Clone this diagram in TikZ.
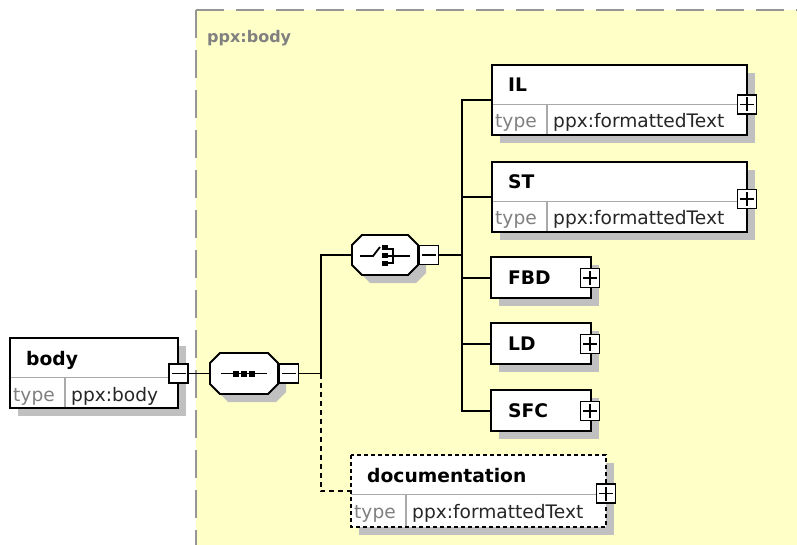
\documentclass[tikz,border=0pt]{standalone}
\usepackage{fontspec}
\setmainfont{DejaVu Sans}

\definecolor{bgyellow}{RGB}{255,255,200}
\definecolor{bordergray}{RGB}{150,150,150}
\definecolor{shadowgray}{RGB}{192,192,192}
\definecolor{typegray}{RGB}{128,128,128}
\definecolor{divgray}{RGB}{170,170,170}

\tikzset{
  conn/.style={draw=black, line width=1.9pt},
  optconn/.style={conn, dash pattern=on 5pt off 4pt},
  framepath/.style={draw=black, line width=1.9pt},
  optframe/.style={dash pattern=on 4pt off 3pt},
  divline/.style={draw=divgray, line width=1.3pt},
  boxfill/.style={fill=white, draw=none, inner sep=0, anchor=north west},
  namelbl/.style={anchor=base west, inner sep=0, font=\bfseries\fontsize{18.7}{22}\selectfont},
  typelbl/.style={anchor=base west, inner sep=0, text=typegray, font=\fontsize{18.6}{22}\selectfont},
  vallbl/.style={anchor=base west, inner sep=0, text=black!85, font=\fontsize{18.6}{22}\selectfont},
  hdrlbl/.style={anchor=base west, inner sep=0, text=typegray, font=\bfseries\fontsize{16}{20}\selectfont},
  pmbox/.style={draw=black, fill=white, line width=1.7pt, minimum size=19pt, inner sep=0},
  pmminus/.style={pmbox, path picture={
      \draw[line width=1.5pt] ([xshift=-7pt]path picture bounding box.center) -- ([xshift=7pt]path picture bounding box.center);}},
  pmplus/.style={pmbox, path picture={
      \draw[line width=1.5pt] ([xshift=-7pt]path picture bounding box.center) -- ([xshift=7pt]path picture bounding box.center)
                               ([yshift=-7pt]path picture bounding box.center) -- ([yshift=7pt]path picture bounding box.center);}},
  icon/.style={draw=black, line width=1.8pt},
  dot/.style={fill=black},
}

% octagon (compositor) outline: style, x1, y1, x2, y2
\newcommand\octshape[5]{%
  \path[#1] (#2+10,#3) -- (#4-10,#3) -- (#4,#3+10) -- (#4,#5-10) -- (#4-10,#5)
            -- (#2+10,#5) -- (#2,#5-10) -- (#2,#3+10) -- cycle;}

% element with a type row: [frame style] name, x1, y1, x2, y2, label, type
\newcommand\typedelem[8][]{%
  \fill[shadowgray] (#3+8,#4+8) rectangle (#5+8,#6+8);
  \node[boxfill, minimum width={#5pt-#3pt}, minimum height={#6pt-#4pt}] (#2) at (#3,#4) {};
  \draw[divline] (#3,#4+39.5) -- (#5,#4+39.5);
  \draw[divline] (#3+55,#4+39.5) -- (#3+55,#6);
  \draw[framepath, #1] (#3,#4) rectangle (#5,#6);
  \node[namelbl] (#2-name) at (#3+16,#4+27) {#7};
  \node[typelbl] (#2-type) at (#3+3,#4+63) {type};
  \node[vallbl] (#2-val) at (#3+61,#4+63) {#8};
}

% element without a type row: name, x1, y1, x2, y2, label
\newcommand\simpleelem[6]{%
  \fill[shadowgray] (#2+8,#3+8) rectangle (#4+8,#5+8);
  \node[boxfill, minimum width={#4pt-#2pt}, minimum height={#5pt-#3pt}] (#1) at (#2,#3) {};
  \draw[framepath] (#2,#3) rectangle (#4,#5);
  \node[namelbl] (#1-name) at (#2+17,#3+27) {#6};
}

\begin{document}
\begin{tikzpicture}[x=1pt,y=-1pt]
  \useasboundingbox (0,0) rectangle (797,545);

  % complex type area
  \fill[bgyellow] (196,10) rectangle (797,545);
  \draw[bordergray, line width=2pt, dash pattern=on 28pt off 12pt] (196,10) -- (196,545);
  \draw[bordergray, line width=2pt, dash pattern=on 28pt off 12pt] (196,10) -- (797,10);
  \node[hdrlbl] (hdr) at (207,43) {ppx:body};

  % root element
  \typedelem{body}{10}{338}{178}{408}{body}{ppx:body}
  \node[pmminus] (bodym) at (178.5,373.5) {};

  % sequence compositor
  \octshape{fill=shadowgray}{218}{361}{286}{402}
  \octshape{fill=white, draw=black, line width=1.9pt}{210}{353}{278}{394}
  \node[inner sep=0, minimum width=68pt, minimum height=41pt] (seq) at (244,373.5) {};
  \draw[icon] (221,373.5) -- (267,373.5);
  \foreach \cx in {236,244,252}
    \fill[dot] (\cx-3,370.5) rectangle (\cx+3,376.5);
  \node[pmminus] (seqm) at (289,373.5) {};

  % choice compositor
  \octshape{fill=shadowgray}{360}{243}{426}{283}
  \octshape{fill=white, draw=black, line width=1.9pt}{352}{235}{418}{275}
  \node[inner sep=0, minimum width=66pt, minimum height=40pt] (choice) at (385,255) {};
  \draw[icon] (360,256) -- (373,256) -- (380,247);
  \foreach \cy in {247.5,255.5,263.5}
    \fill[dot] (381.5,\cy-2.8) rectangle (387.5,\cy+2.8);
  \draw[icon] (387,249) -- (393,249) -- (393,263) -- (387,263);
  \draw[icon] (387,256) -- (410,256);
  \node[pmminus] (choicem) at (429,255) {};

  % child elements
  \typedelem{IL}{492}{65}{747}{135}{IL}{ppx:formattedText}
  \node[pmplus] (ILp) at (747,104.5) {};
  \typedelem{ST}{492}{162}{747}{232}{ST}{ppx:formattedText}
  \node[pmplus] (STp) at (747,199) {};
  \simpleelem{FBD}{491}{257}{591}{298}{FBD}
  \node[pmplus] (FBDp) at (590,278) {};
  \simpleelem{LD}{491}{323}{591}{364}{LD}
  \node[pmplus] (LDp) at (590,344) {};
  \simpleelem{SFC}{491}{390}{591}{431}{SFC}
  \node[pmplus] (SFCp) at (590,411) {};
  \typedelem[optframe]{doc}{351}{455}{606}{527}{documentation}{ppx:formattedText}
  \node[pmplus] (docp) at (606,493.5) {};

  % connectors
  \coordinate (seqj) at (321,373.5);
  \coordinate (chj) at (462,255);
  \draw[conn] (bodym.east) -- (seq.west);
  \draw[conn] (seqm.east) -- (seqj);
  \draw[conn] (seqj) |- (choice.west);
  \draw[conn] (choicem.east) -- (chj);
  \foreach \n in {IL,ST,FBD,LD,SFC}
    \draw[conn] (chj) |- (\n.west);
  \draw[optconn] (seqj) |- (doc.west);
\end{tikzpicture}
\end{document}
